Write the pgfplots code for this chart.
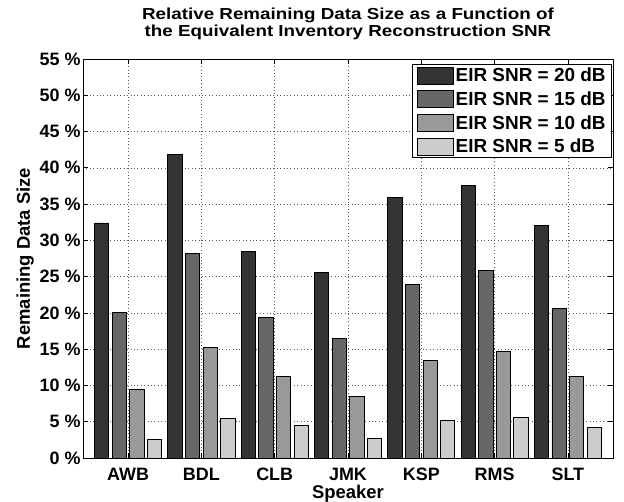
\documentclass[border=0pt]{standalone}
\usepackage{fontspec}
\setmainfont{Liberation Sans}
\newfontfamily\titlefont[FakeStretch=1.18]{Liberation Sans}
\usepackage{pgfplots}
\pgfplotsset{compat=1.18}
\definecolor{c1}{gray}{0.2}
\definecolor{c2}{gray}{0.4}
\definecolor{c3}{gray}{0.6}
\definecolor{c4}{gray}{0.8}
\begin{document}
\begin{tikzpicture}
\begin{axis}[
  scale only axis,
  width=530bp, height=399bp,
  xmin=0.385, xmax=7.615,
  ymin=0, ymax=55,
  xtick={1,2,3,4,5,6,7},
  xticklabels={AWB,BDL,CLB,JMK,KSP,RMS,SLT},
  ytick={0,5,10,15,20,25,30,35,40,45,50,55},
  yticklabels={0 \%,5 \%,10 \%,15 \%,20 \%,25 \%,30 \%,35 \%,40 \%,45 \%,50 \%,55 \%},
  tick align=inside,
  tick pos=both,
  major tick length=5bp,
  grid=major,
  grid style={dash pattern=on 0.8bp off 2.6bp, black!65, line width=0.6pt},
  axis line style={line width=0.9pt},
  tick style={black, line width=0.7pt},
  ticklabel style={font=\fontsize{18}{20}\selectfont\bfseries},
  xticklabel style={yshift=-4bp, inner ysep=2bp, yshift=-4bp},
  yticklabel style={xshift=1bp},
  xlabel={Speaker},
  ylabel={Remaining Data Size},
  label style={font=\fontsize{18.5}{21}\selectfont\bfseries},
  xlabel style={inner ysep=1bp, yshift=-1bp},
  ylabel style={yshift=-1bp},
  title={Relative Remaining Data Size as a Function of\\the Equivalent Inventory Reconstruction SNR},
  title style={font=\titlefont\fontsize{16}{16.5}\selectfont\bfseries, align=center, yshift=10bp},
  legend style={at={(rel axis cs:1,1)}, anchor=north east, xshift=-1bp, yshift=-5bp,
    font=\fontsize{19}{21}\selectfont\bfseries, draw=black, line width=0.9pt,
    row sep=4.5bp, inner xsep=4bp, inner ysep=1.5bp},
  legend cell align=left,
  legend image code/.code={\draw[#1, line width=0.8pt] (0bp,-8.5bp) rectangle (36bp,8.5bp);},
  every axis plot/.append style={ybar, bar width=0.195, draw=black, line width=0.8pt},
]
\addplot[fill=c1, bar shift=-0.36] coordinates {(1,32.4) (2,41.9) (3,28.5) (4,25.6) (5,35.9) (6,37.6) (7,32.0)};
\addplot[fill=c2, bar shift=-0.12] coordinates {(1,20.1) (2,28.2) (3,19.4) (4,16.5) (5,23.9) (6,25.8) (7,20.6)};
\addplot[fill=c3, bar shift=0.12] coordinates {(1,9.5) (2,15.2) (3,11.2) (4,8.5) (5,13.5) (6,14.7) (7,11.3)};
\addplot[fill=c4, bar shift=0.36] coordinates {(1,2.6) (2,5.4) (3,4.5) (4,2.7) (5,5.2) (6,5.6) (7,4.2)};
\legend{EIR SNR = 20 dB, EIR SNR = 15 dB, EIR SNR = 10 dB, EIR SNR = 5 dB}
\end{axis}
\pgfresetboundingbox
\path[use as bounding box] ([shift={(-83bp,-44bp)}]current axis.south west) rectangle ([shift={(11bp,59bp)}]current axis.north east);
\end{tikzpicture}
\end{document}
